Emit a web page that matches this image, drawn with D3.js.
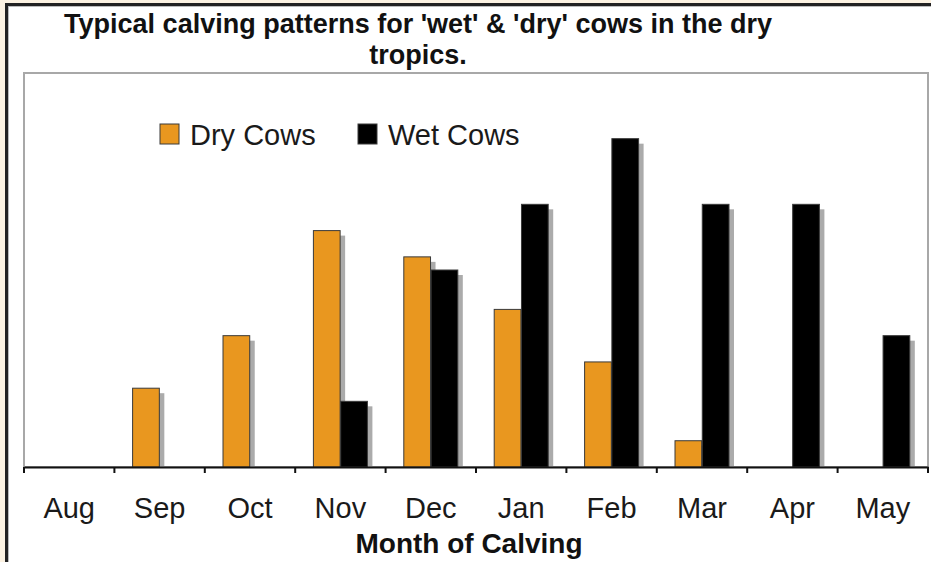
<!DOCTYPE html>
<html>
<head>
<meta charset="utf-8">
<script src="https://cdn.jsdelivr.net/npm/d3@7"></script>
<style>
  html, body { margin: 0; padding: 0; background: #FCF2E2; }
  svg { display: block; font-family: "Liberation Sans", Arial, sans-serif; }
</style>
</head>
<body>
<svg id="chart" width="931" height="562"></svg>
<script>
// ---- data ----
const months = ["Aug", "Sep", "Oct", "Nov", "Dec", "Jan", "Feb", "Mar", "Apr", "May"];
const dryCows = [0, 6, 10, 18, 16, 12, 8, 2, 0, 0];
const wetCows = [0, 0, 0, 5, 15, 20, 25, 20, 20, 10];
const seriesNames = ["Dry Cows", "Wet Cows"];
const seriesColors = ["#E9971F", "#000000"];
const titleLines = ["Typical calving patterns for 'wet' & 'dry' cows in the dry", "tropics."];
const xTitle = "Month of Calving";
const yMax = 30;

// ---- layout ----
const svg = d3.select("#chart");
const W = 931, H = 562;
const plot = { left: 24, right: 928, top: 73, bottom: 467 };

// frame
svg.append("rect").attr("x", 7).attr("y", 5).attr("width", W).attr("height", H)
  .attr("fill", "#ffffff");
svg.append("line").attr("x1", 6.5).attr("x2", 6.5).attr("y1", 3).attr("y2", H)
  .attr("stroke", "#222").attr("stroke-width", 3);
svg.append("line").attr("x1", 5).attr("x2", W).attr("y1", 4.5).attr("y2", 4.5)
  .attr("stroke", "#222").attr("stroke-width", 3);
svg.append("line").attr("x1", 8.5).attr("x2", 8.5).attr("y1", 6).attr("y2", H)
  .attr("stroke", "#bbb").attr("stroke-width", 1);
svg.append("line").attr("x1", 8).attr("x2", W).attr("y1", 6.5).attr("y2", 6.5)
  .attr("stroke", "#bbb").attr("stroke-width", 1);

// scales
const x = d3.scaleBand().domain(months).range([plot.left, plot.right]).padding(0);
const inner = d3.scaleBand().domain(seriesNames).range([-27, 27]).paddingInner(0.02);
const y = d3.scaleLinear().domain([0, yMax]).range([plot.bottom, plot.top]);
const color = d3.scaleOrdinal().domain(seriesNames).range(seriesColors);

// plot area border
svg.append("rect")
  .attr("x", plot.left).attr("y", plot.top)
  .attr("width", plot.right - plot.left).attr("height", plot.bottom - plot.top)
  .attr("fill", "#fff").attr("stroke", "#a8a8a8").attr("stroke-width", 2);

// title
const title = svg.append("text")
  .attr("text-anchor", "middle")
  .attr("font-weight", "bold").attr("font-size", 27).attr("fill", "#111");
titleLines.forEach((t, i) => {
  title.append("tspan").attr("x", 418).attr("y", 33 + i * 31).text(t);
});

// bars
const rows = months.map((m, i) => ({ month: m, values: [dryCows[i], wetCows[i]] }));
const flat = [];
rows.forEach(r => r.values.forEach((v, j) => flat.push({ month: r.month, series: seriesNames[j], value: v })));
const shown = flat.filter(d => d.value > 0);
const cx = d => x(d.month) + x.bandwidth() / 2 + inner(d.series);
const sh = 5;

// shadows
svg.append("g").selectAll("rect").data(shown).join("rect")
  .attr("x", d => cx(d) + sh)
  .attr("y", d => y(d.value) + sh)
  .attr("width", inner.bandwidth())
  .attr("height", d => Math.max(0, y(0) - y(d.value) - sh))
  .attr("fill", "#ababab");

svg.append("g").selectAll("rect").data(shown).join("rect")
  .attr("x", d => cx(d))
  .attr("y", d => y(d.value))
  .attr("width", inner.bandwidth())
  .attr("height", d => y(0) - y(d.value))
  .attr("fill", d => color(d.series))
  .attr("stroke", "#3a3a3a").attr("stroke-width", 1);

// x axis
const axisG = svg.append("g").attr("transform", `translate(0,${plot.bottom})`)
  .call(d3.axisBottom(x).tickSize(0).tickPadding(30));
axisG.select(".domain").attr("stroke", "#111").attr("stroke-width", 2);
axisG.selectAll(".tick text").attr("font-size", 29).attr("fill", "#1a1a1a")
  .attr("font-family", "'Liberation Sans', Arial, sans-serif");
const boundaries = months.map(m => x(m)).concat([plot.right]);
axisG.append("g").selectAll("line").data(boundaries).join("line")
  .attr("x1", d => d).attr("x2", d => d).attr("y1", 0).attr("y2", 6)
  .attr("stroke", "#111").attr("stroke-width", 2);

// axis title
svg.append("text").attr("x", 469).attr("y", 553).attr("text-anchor", "middle")
  .attr("font-weight", "bold").attr("font-size", 28).attr("fill", "#111").text(xTitle);

// legend
const legendX = [160, 358];
const lg = svg.append("g").selectAll("g").data(seriesNames).join("g")
  .attr("transform", (d, i) => `translate(${legendX[i]},124)`);
lg.append("rect").attr("width", 19).attr("height", 20)
  .attr("fill", d => color(d)).attr("stroke", "#3a3a3a").attr("stroke-width", 1);
lg.append("text").attr("x", 30).attr("y", 21).attr("font-size", 29).attr("fill", "#1a1a1a")
  .text(d => d);
</script>
</body>
</html>
